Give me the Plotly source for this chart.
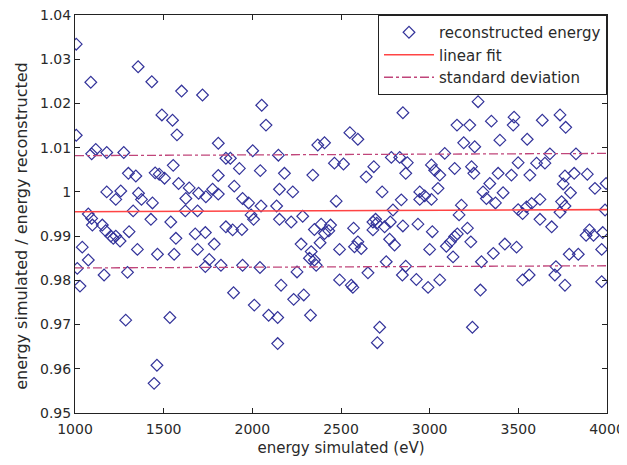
import plotly.graph_objects as go

energy = [
    1007, 1089, 1356, 1433, 1601, 1719, 1490, 1550, 1575, 1007, 1094, 1117, 1179, 1275, 1554,
    1301, 1343, 1452, 1475, 1505, 1584, 1644, 1179, 1258, 1230, 1358, 1375, 1437, 1625, 1697,
    1738, 1328, 1622, 1691, 1075,
    2053, 2077, 1808, 2002, 1851, 1876, 2147, 2369, 2407, 2550, 2045, 1927, 2181, 2341, 2463,
    2514, 1808, 1898, 1776, 1808, 2153, 2228, 1945, 1979, 2049, 2137, 2473,
    3273, 2849, 2595, 3154, 3226, 3192, 3254, 2784, 2831, 2874, 2685, 2642, 2865, 3010, 3028,
    3057, 3085, 3141, 3236, 3249, 2732, 2944, 2972, 3010, 3047, 2944, 2840, 3179, 3301, 3320,
    2793, 3166,
    3348, 3476, 3471, 3635, 3735, 3767, 3396, 3550, 3678, 3825, 3499, 3603, 3650, 3386, 3461,
    3565, 3763, 3815, 3889, 3339, 3414, 3753, 3794, 3932, 3995, 3371, 3499, 3546, 3575, 3622,
    3744, 3763, 3524, 3989,
    1094, 1098, 1154, 1173, 1202, 1216, 1230, 1254, 1305, 1428, 1540, 1569, 1678, 1735, 1041,
    1075, 1352, 1465, 1559, 1691, 1013, 1164, 1296, 1028, 1735, 1286, 1535, 1462, 1446,
    1785, 1851, 1889, 1941, 1993, 2007, 2153, 2219, 2284, 1757, 1823, 1945, 2043, 1894, 2011,
    2092, 2143, 2143, 2162, 2233, 2290, 2328, 2252, 2275, 2332, 2322, 2350, 2360, 2350, 2388,
    2407, 2431, 2441, 2382, 2492, 2492,
    2571, 2576, 2595, 2614, 2558, 2567, 2652, 2680, 2695, 2702, 2680, 2746, 2778, 2774, 2802,
    2755, 2849, 2934, 3015, 3000, 2865, 2846, 2925, 2991, 3057, 2718, 2705, 3241, 3094, 3117,
    3132, 3141, 3156, 3213, 3232, 3292, 3286,
    3359, 3424, 3490, 3524, 3561, 3622, 3688, 3735, 3712, 3706, 3763, 3787, 3838, 3882, 3901,
    3924, 3970, 3976, 3970,
]

ratio = [
    1.0334, 1.0248, 1.0283, 1.0249, 1.0228, 1.0219, 1.0174, 1.0162, 1.0129, 1.0128, 1.0086, 1.0096, 1.0089, 1.0089, 1.0060,
    1.0042, 1.0036, 1.0043, 1.0040, 1.0031, 1.0019, 1.0009, 1.0000, 1.0002, 0.9983, 0.9997, 0.9983, 0.9975, 0.9985, 0.9997,
    0.9989, 0.9957, 0.9957, 0.9957, 0.9950,
    1.0196, 1.0151, 1.0110, 1.0093, 1.0076, 1.0076, 1.0083, 1.0106, 1.0111, 1.0134, 1.0048, 1.0053, 1.0042, 1.0038, 1.0065,
    1.0063, 1.0037, 1.0013, 1.0006, 0.9995, 1.0006, 1.0000, 0.9985, 0.9975, 0.9968, 0.9968, 0.9979,
    1.0204, 1.0179, 1.0119, 1.0151, 1.0151, 1.0111, 1.0102, 1.0078, 1.0078, 1.0066, 1.0057, 1.0034, 1.0042, 1.0061, 1.0049,
    1.0038, 1.0087, 1.0053, 1.0057, 1.0042, 1.0000, 1.0000, 0.9991, 0.9983, 1.0008, 0.9983, 0.9982, 0.9970, 1.0000, 0.9985,
    0.9959, 0.9948,
    1.0160, 1.0169, 1.0151, 1.0162, 1.0174, 1.0146, 1.0117, 1.0119, 1.0086, 1.0086, 1.0066, 1.0065, 1.0065, 1.0042, 1.0038,
    1.0038, 1.0036, 1.0042, 1.0040, 1.0019, 0.9998, 1.0018, 0.9998, 1.0008, 1.0019, 0.9975, 0.9960, 0.9966, 0.9974, 0.9983,
    0.9978, 0.9968, 0.9951, 0.9959,
    0.9940, 0.9925, 0.9925, 0.9912, 0.9900, 0.9895, 0.9900, 0.9889, 0.9910, 0.9938, 0.9932, 0.9895, 0.9905, 0.9908, 0.9875,
    0.9846, 0.9870, 0.9859, 0.9859, 0.9870, 0.9827, 0.9812, 0.9818, 0.9787, 0.9831, 0.9710, 0.9716, 0.9608, 0.9567,
    0.9882, 0.9921, 0.9914, 0.9915, 0.9948, 0.9938, 0.9938, 0.9932, 0.9945, 0.9847, 0.9834, 0.9834, 0.9829, 0.9772, 0.9744,
    0.9721, 0.9716, 0.9657, 0.9789, 0.9757, 0.9767, 0.9721, 0.9819, 0.9882, 0.9865, 0.9850, 0.9846, 0.9834, 0.9915, 0.9927,
    0.9906, 0.9912, 0.9925, 0.9885, 0.9870, 0.9801,
    0.9918, 0.9876, 0.9887, 0.9872, 0.9789, 0.9784, 0.9817, 0.9932, 0.9938, 0.9929, 0.9914, 0.9921, 0.9932, 0.9893, 0.9880,
    0.9842, 0.9923, 0.9927, 0.9910, 0.9870, 0.9832, 0.9812, 0.9802, 0.9784, 0.9801, 0.9694, 0.9659, 0.9694, 0.9877, 0.9887,
    0.9853, 0.9899, 0.9905, 0.9918, 0.9887, 0.9842, 0.9778,
    0.9861, 0.9882, 0.9875, 0.9801, 0.9812, 0.9938, 0.9921, 0.9954, 0.9831, 0.9812, 0.9789, 0.9859, 0.9859, 0.9902, 0.9914,
    0.9902, 0.9870, 0.9908, 0.9797,
]

fit_x = [1000, 4000]
fit_y = [0.9955, 0.9960]
std_dev = 0.0127
std_upper = [v + std_dev for v in fit_y]
std_lower = [v - std_dev for v in fit_y]

x_ticks = [1000, 1500, 2000, 2500, 3000, 3500, 4000]
y_ticks = [0.95, 0.96, 0.97, 0.98, 0.99, 1.00, 1.01, 1.02, 1.03, 1.04]
y_tick_text = ["0.95", "0.96", "0.97", "0.98", "0.99", "1", "1.01", "1.02", "1.03", "1.04"]

x_title = "energy simulated (eV)"
y_title = "energy simulated / energy reconstructed"

navy = "#33339a"
red = "#ff4444"
magenta = "#c0457a"
FONT = "DejaVu Sans, Arial, sans-serif"
TXT = "#2a2a2a"

fig = go.Figure()
fig.add_trace(go.Scatter(
    x=energy, y=ratio, mode="markers", name="reconstructed energy",
    marker=dict(symbol="diamond-open", size=9, color=navy, line=dict(width=1.2, color=navy)),
))
fig.add_trace(go.Scatter(
    x=fit_x, y=fit_y, mode="lines", name="linear fit",
    line=dict(color=red, width=1.6),
))
fig.add_trace(go.Scatter(
    x=fit_x, y=std_upper, mode="lines", name="standard deviation",
    line=dict(color=magenta, width=1.3, dash="dashdot"),
))
fig.add_trace(go.Scatter(
    x=fit_x, y=std_lower, mode="lines", name="standard deviation", showlegend=False,
    line=dict(color=magenta, width=1.3, dash="dashdot"),
))

axis_common = dict(
    showgrid=False, zeroline=False, showline=True, linecolor="#222", linewidth=1,
    mirror="ticks", ticks="inside", ticklen=5, tickcolor="#222", automargin=False,
    ticklabeloverflow="allow",
    tickfont=dict(family=FONT, size=14, color=TXT),
)

fig.update_layout(
    width=619, height=457,
    margin=dict(l=67, r=20, t=7, b=52),
    paper_bgcolor="white", plot_bgcolor="white",
    font=dict(family=FONT, size=14, color=TXT),
    xaxis=dict(range=[1000, 4000], tickvals=x_ticks, ticklabelstandoff=3,
               title=dict(text=x_title, standoff=6, font=dict(size=15, family=FONT, color=TXT)),
               **axis_common),
    yaxis=dict(range=[0.95, 1.04], tickvals=y_ticks, ticktext=y_tick_text,
               **axis_common),
    legend=dict(x=1, y=1, xanchor="right", yanchor="top", bgcolor="white",
                bordercolor="#222", borderwidth=1, itemwidth=50,
                font=dict(size=15, family=FONT, color=TXT), tracegroupgap=0),
    showlegend=True,
    annotations=[dict(
        text=y_title, xref="paper", yref="paper", x=-0.1, y=0.47,
        xanchor="center", yanchor="middle", textangle=-90, showarrow=False,
        font=dict(size=16, family=FONT, color=TXT),
    )],
)

fig.write_html("out.html")
